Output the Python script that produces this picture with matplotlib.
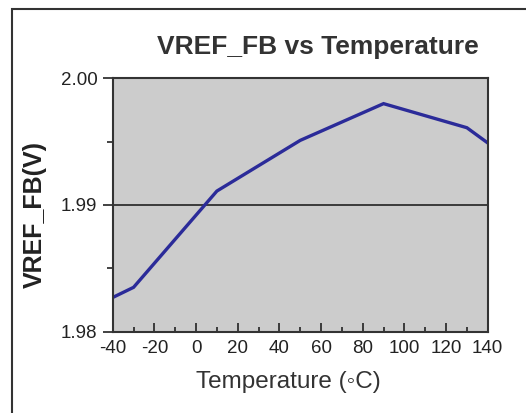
import numpy as np
import matplotlib
matplotlib.use("Agg")
import matplotlib.pyplot as plt
from matplotlib.patches import Rectangle
from matplotlib.ticker import MultipleLocator

# Data
temps = [-40, -30, -20, 0, 10, 50, 90, 130, 140]
vref = [1.9827, 1.9835, 1.9854, 1.9892, 1.9911, 1.9951, 1.9980, 1.9961, 1.9949]

title = "VREF_FB vs Temperature"
x_label = "Temperature (\u25e6C)"
y_label = "VREF_FB(V)"
y_ticks = [1.98, 1.99, 2.00]
y_ticklabels = ["1.98", "1.99", "2.00"]

plt.rcParams["font.family"] = ["Liberation Sans", "DejaVu Sans"]
plt.rcParams["axes.unicode_minus"] = False

fig = plt.figure(figsize=(5.26, 4.13), dpi=100)
ax = fig.add_axes([0.2143, 0.1969, 0.7129, 0.6135])

ax.set_facecolor("#cccccc")
ax.plot(temps, vref, color="#2b2b99", lw=2.4, solid_joinstyle="miter")
ax.axhline(1.99, color="#222222", lw=1.2, zorder=1)

ax.set_xlim(-40, 140)
ax.set_ylim(1.98, 2.00)
ax.xaxis.set_major_locator(MultipleLocator(20))
ax.xaxis.set_minor_locator(MultipleLocator(10))
ax.set_yticks(y_ticks)
ax.set_yticklabels(y_ticklabels)
ax.yaxis.set_minor_locator(MultipleLocator(0.005))

ax.tick_params(axis="x", which="major", direction="in", length=6.5, width=1.2,
               color="#222222", labelsize=13.5, labelcolor="#222222", pad=6)
ax.tick_params(axis="x", which="minor", direction="in", length=3.6, width=1.2, color="#222222")
ax.tick_params(axis="y", which="major", direction="out", length=7, width=1.2,
               color="#222222", labelsize=13.5, labelcolor="#222222", pad=4)
ax.tick_params(axis="y", which="minor", direction="out", length=4.5, width=1.2, color="#222222")

for s in ax.spines.values():
    s.set_color("#333333")
    s.set_linewidth(1.5)

fig.text(0.6036, 0.869, title, ha="center", va="baseline", fontsize=19,
         fontweight="bold", color="#333333")
fig.text(0.5485, 0.0605, x_label, ha="center", va="baseline", fontsize=17.5,
         color="#333333")
fig.text(34.5 / 526, 1 - 214.5 / 413, y_label, ha="center", va="center", rotation=90,
         fontsize=18, fontweight="bold", color="#222222")

# outer frame, running off the right and bottom edges
frame = Rectangle((12 / 526, -0.05), 1.1, 1 - 9 / 413 + 0.05, transform=fig.transFigure,
                  fill=False, edgecolor="#333333", lw=1.5, clip_on=False)
fig.patches.append(frame)

fig.savefig("out.png", dpi=100)
